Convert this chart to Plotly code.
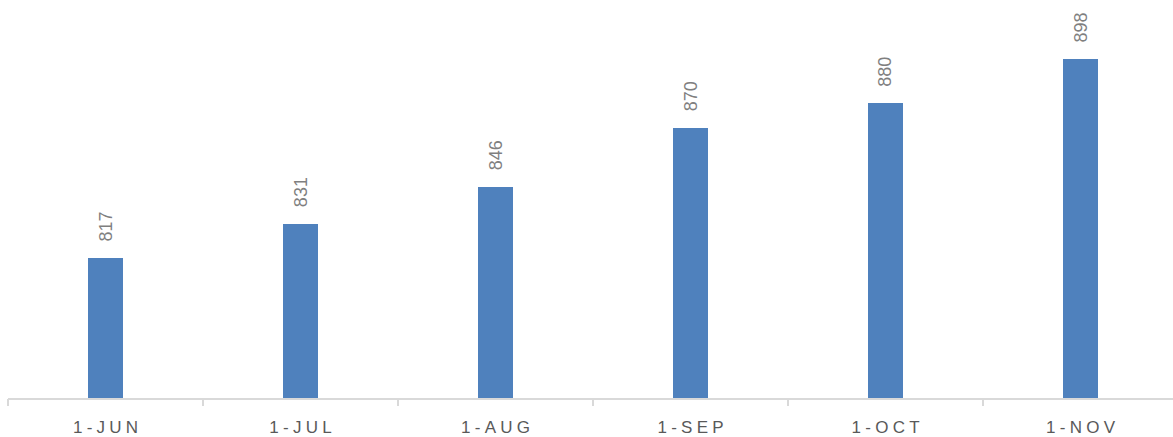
import plotly.graph_objects as go

# Monthly values
months = ["1-JUN", "1-JUL", "1-AUG", "1-SEP", "1-OCT", "1-NOV"]
values = [817, 831, 846, 870, 880, 898]

BAR_COLOR = "#4f81bd"
AXIS_COLOR = "#d9d9d9"
TICK_TEXT = "#595959"
LABEL_TEXT = "#7f7f7f"


def spaced(s):
    # widen the tick labels with narrow spaces between characters
    return "\u2005".join(s)


fig = go.Figure()
fig.add_trace(go.Bar(
    x=list(range(len(months))),
    y=values,
    width=0.183,
    marker=dict(color=BAR_COLOR, line=dict(width=0)),
    hoverinfo="x+y",
))

# rotated value labels above each bar
for i, v in enumerate(values):
    fig.add_annotation(
        x=i, y=v, text=str(v), textangle=-90,
        showarrow=False, xanchor="center", yanchor="bottom", yshift=14,
        font=dict(family="Liberation Sans, Arial, sans-serif", size=18, color=LABEL_TEXT),
    )

fig.update_layout(
    width=1173, height=437,
    margin=dict(l=8, r=0, t=5, b=39),
    paper_bgcolor="white", plot_bgcolor="white",
    showlegend=False,
    bargap=0,
)
fig.update_xaxes(
    range=[-0.5, 5.474],
    tickmode="array",
    tickvals=list(range(len(months))),
    ticktext=[spaced(m) for m in months],
    tickfont=dict(family="Liberation Sans, Arial, sans-serif", size=17, color=TICK_TEXT),
    showgrid=False, zeroline=False,
    showline=True, linecolor=AXIS_COLOR, linewidth=1.5,
    ticks="", ticklabelstandoff=13,
)
# tick marks at category boundaries on an overlaid axis
fig.update_layout(xaxis2=dict(
    overlaying="x", matches="x", side="bottom", anchor="y",
    tickmode="array", tickvals=[i - 0.5 for i in range(len(months) + 1)],
    showticklabels=False, ticks="outside", ticklen=7, tickwidth=1.5, tickcolor=AXIS_COLOR,
    showgrid=False, zeroline=False, showline=False,
))
fig.add_trace(go.Scatter(x=[0], y=[760], xaxis="x2", mode="markers",
                         marker=dict(opacity=0), hoverinfo="skip", showlegend=False))
fig.update_yaxes(range=[760, 920], visible=False)

fig.write_html("out.html")
